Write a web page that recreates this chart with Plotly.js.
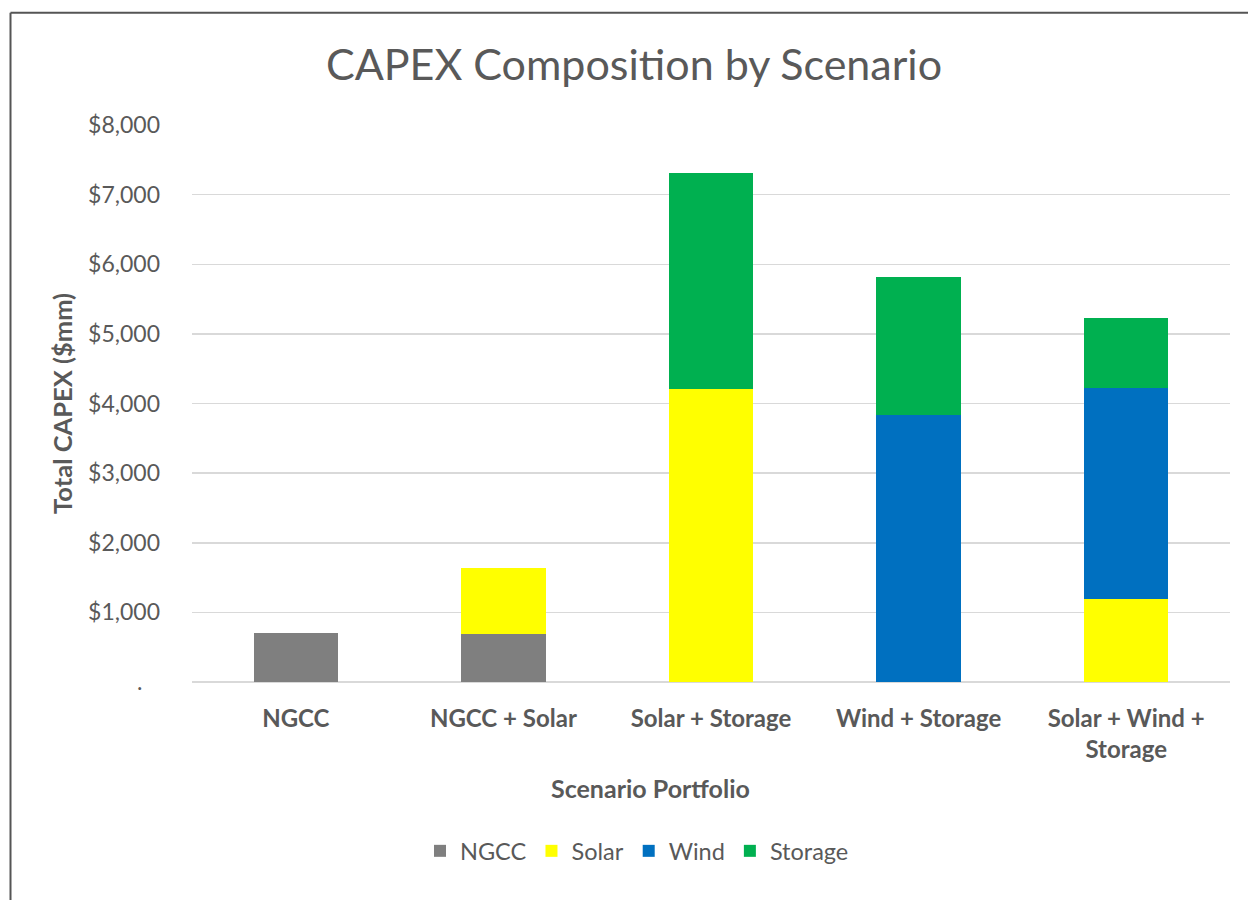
<!DOCTYPE html>
<html>
<head>
<meta charset="utf-8">
<script src="https://cdn.plot.ly/plotly-3.0.1.min.js"></script>
<style>html,body{margin:0;padding:0;background:#fff;}#chart{width:1248px;height:900px;}</style>
</head>
<body>
<div id="chart"></div>
<script>
const categories = ["NGCC", "NGCC + Solar", "Solar + Storage", "Wind + Storage", "Solar + Wind +<br>Storage"];
const ngcc    = [708, 690, 0, 0, 0];
const solar   = [0, 952, 4210, 0, 1188];
const wind    = [0, 0, 0, 3836, 3032];
const storage = [0, 0, 3099, 1983, 1014];
const seriesNames = ["NGCC", "Solar", "Wind", "Storage"];
const seriesColors = ["#7f7f7f", "#ffff00", "#0070c0", "#00b050"];
const yTickVals = [0, 1000, 2000, 3000, 4000, 5000, 6000, 7000, 8000];
const yTickText = [".\u00a0\u00a0\u00a0", "$1,000", "$2,000", "$3,000", "$4,000", "$5,000", "$6,000", "$7,000", "$8,000"];

const FONT = "Lato, 'Open Sans', sans-serif";
const TXT = "#595959";
const values = [ngcc, solar, wind, storage];
const traces = values.map((v, i) => ({
  type: "bar", x: categories, y: v, name: seriesNames[i],
  marker: {color: seriesColors[i], line: {width: 0}},
  hoverinfo: "skip"
}));

const W = 1248, H = 900;
const L = 192, R = W - 1230, T = 125.2, B = H - 682;
const pw = W - L - R, ph = H - T - B;
const px = x => (x - L) / pw;
const py = y => (H - B - y) / ph;

const layout = {
  width: W, height: H,
  margin: {l: L, r: R, t: T, b: B, pad: 0},
  paper_bgcolor: "#fff", plot_bgcolor: "#fff",
  barmode: "stack", bargap: 0.593,
  font: {family: FONT, color: TXT},
  title: {text: "CAPEX Composition by Scenario", font: {family: FONT, size: 43, color: TXT},
          xref: "container", x: 634 / W, xanchor: "center", yref: "container", y: 1 - 65 / H, yanchor: "middle"},
  xaxis: {type: "category", range: [-0.5, 4.5], showline: false, showgrid: false, zeroline: false,
          ticks: "", tickfont: {family: FONT, size: 24, color: TXT, weight: "bold"}, ticklabelstandoff: 20, fixedrange: true},
  yaxis: {range: [0, 8000], tickvals: yTickVals, ticktext: yTickText, showgrid: true, gridcolor: "#d9d9d9", gridwidth: 1.5,
          zeroline: true, zerolinecolor: "#d9d9d9", zerolinewidth: 1.5, showline: false, ticks: "",
          tickfont: {family: FONT, size: 23, color: TXT}, ticklabelstandoff: 31, fixedrange: true},
  showlegend: true,
  legend: {orientation: "h", xref: "paper", x: px(637), xanchor: "center", yref: "paper", y: py(851), yanchor: "middle",
           font: {family: FONT, size: 23.5, color: TXT}, traceorder: "normal", itemclick: false, itemdoubleclick: false},
  annotations: [
    {text: "<b>Scenario Portfolio</b>", xref: "paper", yref: "paper", x: px(650), y: py(788), xanchor: "center", yanchor: "middle",
     showarrow: false, font: {family: FONT, size: 25, color: TXT}},
    {text: "<b>Total CAPEX ($mm)</b>", xref: "paper", yref: "paper", x: px(62), y: py(404), xanchor: "center", yanchor: "middle",
     textangle: -90, showarrow: false, font: {family: FONT, size: 25.5, color: TXT}}
  ],
  shapes: [
    {type: "line", xref: "paper", yref: "paper", x0: px(10.5), x1: px(10.5), y0: py(13), y1: py(905), line: {color: "#555", width: 2}},
    {type: "line", xref: "paper", yref: "paper", x0: px(10.5), x1: px(1260), y0: py(13), y1: py(13), line: {color: "#555", width: 2}}
  ]
};
Plotly.newPlot("chart", traces, layout, {displayModeBar: false, staticPlot: true});
</script>
</body>
</html>
